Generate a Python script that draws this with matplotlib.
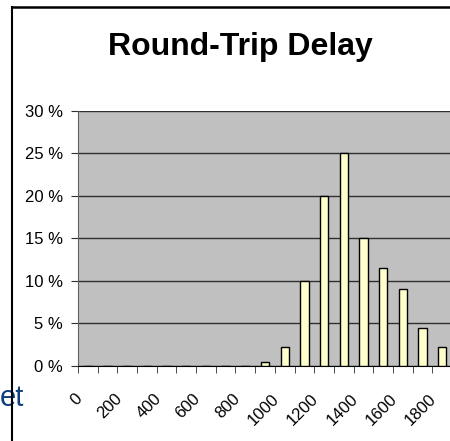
import matplotlib.pyplot as plt
from matplotlib.lines import Line2D
from matplotlib.transforms import ScaledTranslation
import numpy as np

plt.rcParams['font.family'] = ['Liberation Sans', 'DejaVu Sans']

# round-trip delay bins and share of packets (%)
delay = [0, 100, 200, 300, 400, 500, 600, 700, 800, 900,
         1000, 1100, 1200, 1300, 1400, 1500, 1600, 1700, 1800]
share = [0, 0, 0, 0, 0, 0, 0, 0, 0, 0.5,
         2.2, 10, 20, 25, 15, 11.5, 9, 4.5, 2.2]
yticks = [0, 5, 10, 15, 20, 25, 30]

W, H = 450, 441
fig = plt.figure(figsize=(W / 100, H / 100), dpi=100)

# chart area frame (only top and left edges visible)
fig.add_artist(Line2D([12 / W, 12 / W], [0, 1 - 6.5 / H], color='black', lw=1.5))
fig.add_artist(Line2D([12 / W, 1], [1 - 6.5 / H, 1 - 6.5 / H], color='black', lw=1.8))

# leftover slide text behind the chart
fig.text(0, 1 - 398 / H, 'et', color='#0d3f7f', fontsize=21, va='center', ha='left', zorder=0)

ax = fig.add_axes([78 / W, (H - 366) / H, 374 / W, (366 - 110.7) / H])
ax.set_facecolor('#C0C0C0')

x = np.arange(len(delay))
ax.bar(x, share, width=0.42, color='#FFFFCC', edgecolor='black', linewidth=1, zorder=3)

ax.set_xlim(-0.5, len(delay) - 0.5)
ax.set_ylim(0, 30)
ax.set_yticks(yticks)
ax.set_yticklabels([f'{v} %' for v in yticks])
ax.yaxis.grid(True, color='#303030', linewidth=1)
ax.set_axisbelow(True)

ax.set_xticks(x[::2])
ax.set_xticklabels([str(d) for d in delay[::2]], rotation=45, ha='right',
                   va='center', rotation_mode='anchor')
ax.set_xticks(np.arange(len(delay) + 1) - 0.5, minor=True)
ax.tick_params(axis='x', which='major', length=0, pad=22, labelsize=12)
ax.tick_params(axis='x', which='minor', length=5, color='#303030')
ax.tick_params(axis='y', length=5, color='#303030', labelsize=12, pad=6)
off = ScaledTranslation(-8 / 100, 0, fig.dpi_scale_trans)
for lab in ax.get_xticklabels():
    lab.set_transform(lab.get_transform() + off)

for s in ['top', 'right']:
    ax.spines[s].set_visible(False)
ax.spines['left'].set_color('#606060')
ax.spines['bottom'].set_color('black')

fig.text(240 / W, 1 - 47 / H, 'Round-Trip Delay', fontsize=23, fontweight='bold',
         ha='center', va='center')

fig.savefig('out.png', dpi=100)
